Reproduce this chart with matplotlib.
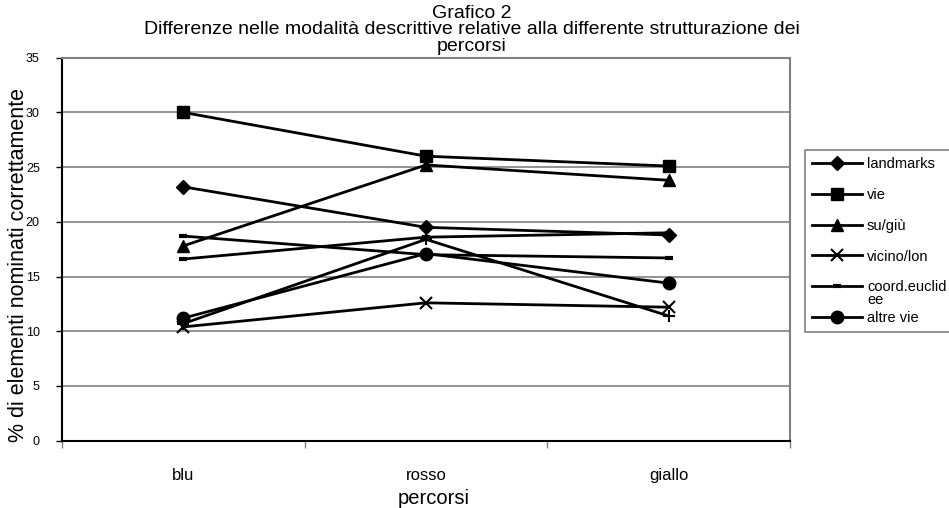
import matplotlib
matplotlib.use('Agg')
import matplotlib.pyplot as plt

plt.rcParams['font.family'] = ['Liberation Sans', 'DejaVu Sans']

# dati
percorsi = ['blu', 'rosso', 'giallo']
landmarks = [23.2, 19.5, 18.8]
vie = [30.0, 26.0, 25.1]
su_giu = [17.8, 25.2, 23.8]
vicino_lon = [10.4, 12.6, 12.2]
coord_euclidee = [18.7, 17.0, 16.7]
altre_vie = [11.2, 17.1, 14.4]
# due serie senza voce in legenda
serie_7 = [16.6, 18.6, 19.0]
serie_8 = [10.7, 18.4, 11.4]

x = list(range(len(percorsi)))

fig = plt.figure(figsize=(9.49, 5.08), dpi=100)
ax = fig.add_axes([0.0653, 0.1325, 0.7671, 0.7539])

lw = 2.0
ax.plot(x, landmarks, color='k', lw=lw, marker='D', ms=7, label='landmarks')
ax.plot(x, vie, color='k', lw=lw, marker='s', ms=9, label='vie')
ax.plot(x, su_giu, color='k', lw=lw, marker='^', ms=9, label='su/giù')
ax.plot(x, vicino_lon, color='k', lw=lw, marker='x', ms=8, mew=1.5, label='vicino/lon')
ax.plot(x, coord_euclidee, color='k', lw=lw, marker='_', ms=6, mew=3, label='coord.euclid')
ax.plot(x, altre_vie, color='k', lw=lw, marker='o', ms=9, label='altre vie')
ax.plot(x, serie_7, color='k', lw=lw, marker='_', ms=6, mew=3, label='_nolegend_')
ax.plot(x, serie_8, color='k', lw=lw, marker='+', ms=9, mew=1.5, label='_nolegend_')

ax.set_xlim(-0.5, 2.5)
ax.set_ylim(0, 35)
ax.set_yticks(range(0, 36, 5))
ax.yaxis.grid(True, color='#808080', lw=1.2)
ax.set_axisbelow(True)
ax.tick_params(axis='y', direction='out', length=4, width=1, labelsize=9, pad=12)
ax.set_xticks(x)
ax.set_xticklabels(percorsi, fontsize=12)
ax.set_xticks([-0.5, 0.5, 1.5, 2.5], minor=True)
ax.tick_params(axis='x', which='major', length=0, pad=20)
ax.tick_params(axis='x', which='minor', direction='out', length=5, width=1, color='#808080')

for s in ['top', 'right']:
    ax.spines[s].set_color('#808080')
    ax.spines[s].set_linewidth(1.5)
for s in ['left', 'bottom']:
    ax.spines[s].set_color('k')
    ax.spines[s].set_linewidth(1.5)

fig.text(0.497, 0.99, 'Grafico 2\nDifferenze nelle modalità descrittive relative alla differente strutturazione dei\npercorsi',
         ha='center', va='top', fontsize=14, linespacing=0.95)
fig.text(0.019, 0.478, '% di elementi nominati correttamente', rotation=90,
         ha='center', va='center', fontsize=15.5)
fig.text(0.457, 0.018, 'percorsi', ha='center', va='center', fontsize=14.5)

leg = fig.legend(loc='upper left', bbox_to_anchor=(805 / 949, 1 - 150 / 508),
                 borderaxespad=0, fontsize=10.5, handlelength=3.4, handletextpad=0.35,
                 labelspacing=1.15, borderpad=0.5, fancybox=False, framealpha=1)
leg.get_frame().set_edgecolor('#808080')
leg.get_frame().set_linewidth(1.2)

# "ee": seconda riga della voce coord.euclidee, sotto la prima
fig.canvas.draw()
bb = leg.get_texts()[4].get_window_extent()
fx, fy = fig.transFigure.inverted().transform((bb.x0, bb.y0 + 1))
fig.text(fx, fy, 'ee', ha='left', va='top', fontsize=10.5, zorder=10)

fig.savefig('out.png', dpi=100)
